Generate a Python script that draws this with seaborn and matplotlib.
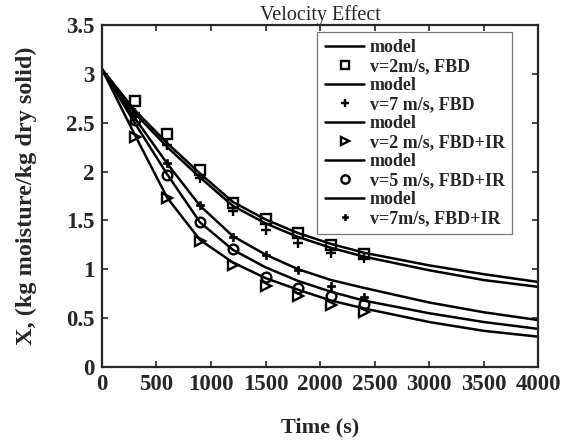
import pandas as pd
import matplotlib
matplotlib.use("Agg")
import matplotlib.pyplot as plt
import seaborn as sns
from matplotlib.lines import Line2D

# --- Data ---
t_exp = [300, 600, 900, 1200, 1500, 1800, 2100, 2400]
t_model = [0, 300, 600, 900, 1200, 1500, 1800, 2100, 2400, 3000, 3500, 4000]

labels = ["v=2m/s, FBD", "v=7 m/s, FBD", "v=2 m/s, FBD+IR",
          "v=5 m/s, FBD+IR", "v=7m/s, FBD+IR"]
markers = ["s", "+", ">", "o", "P"]

exp_v2_fbd = [2.72, 2.38, 2.02, 1.68, 1.51, 1.37, 1.25, 1.16]
exp_v7_fbd = [2.60, 2.27, 1.93, 1.60, 1.40, 1.27, 1.17, 1.12]
exp_v2_ir = [2.35, 1.73, 1.29, 1.04, 0.83, 0.73, 0.63, 0.56]
exp_v5_ir = [2.53, 1.97, 1.48, 1.21, 0.92, 0.81, 0.73, 0.64]
exp_v7_ir = [2.57, 2.09, 1.66, 1.33, 1.15, 0.99, 0.83, 0.72]

mod_v2_fbd = [3.05, 2.63, 2.29, 1.98, 1.69, 1.51, 1.37, 1.26, 1.17, 1.04, 0.95, 0.87]
mod_v7_fbd = [3.05, 2.60, 2.25, 1.94, 1.65, 1.47, 1.33, 1.22, 1.13, 0.99, 0.89, 0.82]
mod_v2_ir = [3.05, 2.38, 1.73, 1.30, 1.07, 0.91, 0.79, 0.68, 0.60, 0.46, 0.37, 0.31]
mod_v5_ir = [3.05, 2.50, 1.97, 1.48, 1.20, 1.02, 0.88, 0.77, 0.68, 0.55, 0.46, 0.39]
mod_v7_ir = [3.05, 2.55, 2.08, 1.65, 1.34, 1.15, 1.00, 0.89, 0.81, 0.66, 0.56, 0.48]

exp_sets = [exp_v2_fbd, exp_v7_fbd, exp_v2_ir, exp_v5_ir, exp_v7_ir]
mod_sets = [mod_v2_fbd, mod_v7_fbd, mod_v2_ir, mod_v5_ir, mod_v7_ir]

sns.set_style("ticks")
plt.rcParams["font.family"] = ["Liberation Serif", "DejaVu Serif"]
plt.rcParams["font.weight"] = "bold"

fig = plt.figure(figsize=(5.63, 4.40), dpi=100)
ax = fig.add_axes([0.181, 0.166, 0.775, 0.777])

handles = []
for lab, mk, xs, ms in zip(labels, markers, exp_sets, mod_sets):
    df_m = pd.DataFrame({"t": t_model, "X": ms})
    df_e = pd.DataFrame({"t": t_exp, "X": xs})
    sns.lineplot(data=df_m, x="t", y="X", ax=ax, color="black", lw=1.8, sort=False)
    kw = dict(marker=mk, markersize=7, markerfacecolor="none",
              markeredgecolor="black", markeredgewidth=1.7, linestyle="none")
    if mk == "P":
        kw.update(markersize=6, markerfacecolor="black", markeredgewidth=0.5)
    ax.plot(df_e["t"], df_e["X"], **kw)
    handles.append(Line2D([], [], color="black", lw=1.8, label="model"))
    leg_kw = dict(kw)
    leg_kw["markersize"] = kw["markersize"] - 1
    handles.append(Line2D([], [], label=lab, **leg_kw))

ax.set_xlim(0, 4000)
ax.set_ylim(0, 3.5)
ax.set_xticks(range(0, 4001, 500))
ax.set_yticks([0, 0.5, 1, 1.5, 2, 2.5, 3, 3.5])
ax.set_yticklabels(["0", "0.5", "1", "1.5", "2", "2.5", "3", "3.5"])
ax.tick_params(direction="in", top=True, right=True, length=4, width=1.2,
               labelsize=16.5, pad=5)
for s in ax.spines.values():
    s.set_linewidth(1.6)

ax.set_xlabel("Time (s)", fontsize=16, fontweight="bold", labelpad=16)
ax.set_ylabel("X, (kg moisture/kg dry solid)", fontsize=17.5, fontweight="bold", labelpad=21)
ax.set_title("Velocity Effect", fontsize=14.5, fontweight="normal", pad=4)

leg = ax.legend(handles=handles, loc="upper right", fontsize=13,
                frameon=True, fancybox=False, edgecolor="#555555",
                handlelength=2.2, handletextpad=0.3, labelspacing=0.11,
                borderpad=0.4, borderaxespad=0, bbox_to_anchor=(0.94, 0.98))
leg.get_frame().set_linewidth(0.9)

fig.savefig("out.png", dpi=100)
